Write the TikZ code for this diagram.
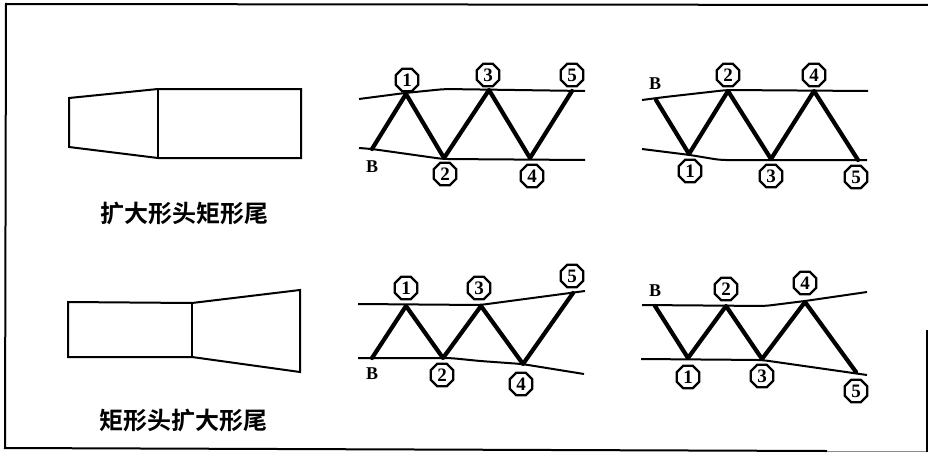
\documentclass[tikz,border=0pt]{standalone}
\usepackage{fontspec}
\setmainfont{Liberation Serif}
\newfontfamily\cjk{Noto Sans CJK SC Bold}
\usetikzlibrary{shapes.geometric}
\tikzset{
  x=1pt,y=-1pt,
  frameline/.style={draw=black,line width=2pt},
  outline/.style={draw=black,line width=2pt,line join=miter},
  chord/.style={draw=black,line width=2pt,rounded corners=6pt},
  web/.style={draw=black,line width=4.2pt,line join=round,line cap=round},
  num/.style={regular polygon,regular polygon sides=8,draw=black,line width=2.3pt,inner sep=0pt,minimum size=24.5pt,font=\bfseries\fontsize{19}{19}\selectfont,text=black},
  lett/.style={font=\bfseries\fontsize{18}{18}\selectfont,inner sep=0pt},
  caption/.style={font=\cjk\fontsize{24}{24}\selectfont,inner sep=0pt},
}
\begin{document}
\begin{tikzpicture}
\useasboundingbox (0,0) rectangle (928,452);
\fill[white] (0,0) rectangle (928,452);
% frame
\draw[frameline] (928,5) -- (6,4) -- (5,448) -- (827,451);
\draw[draw=black!45,line width=1.5pt] (827,451.3) -- (928,451.3);
\draw[frameline] (927,330) -- (927,452);
% shape 1
\draw[outline] (69,98) -- (158,89) -- (301,89) -- (301,158) -- (158,158) -- (69,147) -- cycle;
\draw[outline] (158,89) -- (158,158);
\node[caption] (capa) at (184.5,213) {扩大形头矩形尾};
% shape 2
\draw[outline] (68,302) -- (192,303) -- (300,290) -- (300,372) -- (192,357) -- (68,357) -- cycle;
\draw[outline] (192,303) -- (192,357);
\node[caption] (capb) at (183,420) {矩形头扩大形尾};
% panel A
\draw[chord] (359,99) -- (405,93) -- (445,89) -- (585,91);
\draw[chord] (359,148) -- (372,149) -- (443,159) -- (585,160);
\coordinate (a0) at (372,149); \coordinate (a1) at (406,94); \coordinate (a2) at (444,158);
\coordinate (a3) at (489,90); \coordinate (a4) at (530,158); \coordinate (a5) at (572,91);
\draw[web] (a0) -- (a1) -- (a2) -- (a3) -- (a4) -- (a5);
\node[lett] (ab) at (372,167) {B};
\node[num] (an1) at (407,80) {1}; \node[num] (an3) at (488,75) {3}; \node[num] (an5) at (572,75) {5};
\node[num] (an2) at (445,174) {2}; \node[num] (an4) at (532,176) {4};
% panel B
\draw[chord] (642,100) -- (665,97) -- (727,90) -- (868,91);
\draw[chord] (642,149) -- (690,155) -- (720,160) -- (867,160);
\coordinate (b0) at (656,100); \coordinate (b1) at (689,154); \coordinate (b2) at (728,91);
\coordinate (b3) at (771,159); \coordinate (b4) at (814,91); \coordinate (b5) at (858,160);
\draw[web] (b0) -- (b1) -- (b2) -- (b3) -- (b4) -- (b5);
\node[lett] (bb) at (655,84) {B};
\node[num] (bn2) at (728,75) {2}; \node[num] (bn4) at (814,75) {4};
\node[num] (bn1) at (690,171) {1}; \node[num] (bn3) at (771,176) {3}; \node[num] (bn5) at (856,177) {5};
% panel C
\draw[chord] (358,304) -- (480,305) -- (585,291);
\draw[chord] (358,358) -- (450,358) -- (480,361) -- (522,364) -- (584,374);
\coordinate (c0) at (372,358); \coordinate (c1) at (406,306); \coordinate (c2) at (443,358);
\coordinate (c3) at (481,306); \coordinate (c4) at (523,364); \coordinate (c5) at (573,293);
\draw[web] (c0) -- (c1) -- (c2) -- (c3) -- (c4) -- (c5);
\node[lett] (cb) at (372,374) {B};
\node[num] (cn1) at (406,288) {1}; \node[num] (cn3) at (479,288) {3}; \node[num] (cn5) at (572,276) {5};
\node[num] (cn2) at (442,375) {2}; \node[num] (cn4) at (521,384) {4};
% panel D
\draw[chord] (642,305) -- (765,306) -- (805,301) -- (867,292);
\draw[chord] (641,359) -- (762,360) -- (860,374) -- (867,375);
\coordinate (d0) at (655,306); \coordinate (d1) at (688,358); \coordinate (d2) at (726,306);
\coordinate (d3) at (762,359); \coordinate (d4) at (805,302); \coordinate (d5) at (856,372);
\draw[web] (d0) -- (d1) -- (d2) -- (d3) -- (d4) -- (d5);
\node[lett] (db) at (655,291) {B};
\node[num] (dn2) at (726,289) {2}; \node[num] (dn4) at (805,283) {4};
\node[num] (dn1) at (688,377) {1}; \node[num] (dn3) at (762,376) {3}; \node[num] (dn5) at (856,391) {5};
\end{tikzpicture}
\end{document}
